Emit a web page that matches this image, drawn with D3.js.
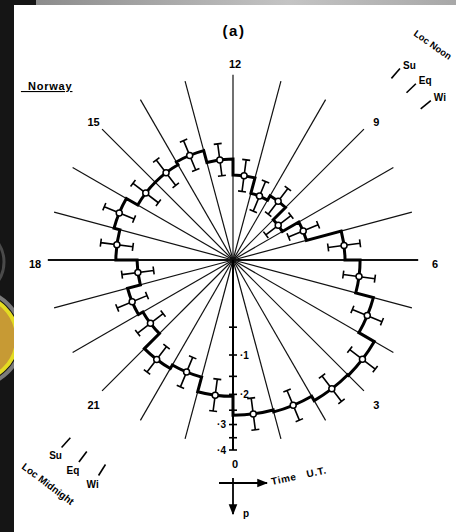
<!DOCTYPE html>
<html>
<head>
<meta charset="utf-8">
<script src="https://cdn.jsdelivr.net/npm/d3@7"></script>
<style>
  body { margin: 0; background: #fff; }
  svg text { font-family: "Liberation Sans", Arial, sans-serif; font-weight: bold; fill: #000; }
</style>
</head>
<body>
<svg id="chart" width="456" height="532"></svg>
<script>
// start hour (U.T.) of each hourly bin
const hours = d3.range(0, 24);
// proportion p in each bin, and the ends of its error bar
const pValues = [0.267, 0.274, 0.292, 0.295, 0.234, 0.179, 0.139, 0.064, 0.036, 0.061, 0.053, 0.080,
                 0.113, 0.142, 0.134, 0.134, 0.168, 0.152, 0.102, 0.132, 0.120, 0.174, 0.163, 0.206];
const pLow   = [0.215, 0.221, 0.237, 0.240, 0.185, 0.137, 0.102, 0.040, 0.019, 0.037, 0.031, 0.053,
                0.080, 0.105, 0.098, 0.098, 0.127, 0.113, 0.071, 0.096, 0.086, 0.132, 0.123, 0.160];
const pHigh  = [0.325, 0.333, 0.352, 0.356, 0.288, 0.227, 0.182, 0.094, 0.059, 0.090, 0.080, 0.113,
                0.152, 0.185, 0.176, 0.176, 0.215, 0.197, 0.139, 0.174, 0.160, 0.221, 0.209, 0.257];
const hourLabels = [0, 3, 6, 9, 12, 15, 18, 21];
const pTicks = [0.05, 0.1, 0.15, 0.2, 0.25, 0.3, 0.35, 0.4];
const pTickLabels = ["·1", "·2", "·3", "·4"];
const pTickLabelValues = [0.1, 0.2, 0.3, 0.4];
const seasons = ["Su", "Eq", "Wi"];
const noonHours = [9.26, 8.93, 8.59];
const midnightHours = [21.17, 21.51, 21.87];

const cx = 233, cy = 260;
const svg = d3.select("#chart");
const defs = svg.append("defs");

// scanned page frame
svg.append("rect").attr("width", 456).attr("height", 532).attr("fill", "#151515");
const grad = defs.append("linearGradient").attr("id", "topbar");
grad.append("stop").attr("offset", "0%").attr("stop-color", "#8c8c8c");
grad.append("stop").attr("offset", "60%").attr("stop-color", "#c4c4c4");
grad.append("stop").attr("offset", "100%").attr("stop-color", "#a8a8a8");
svg.append("rect").attr("x", 36).attr("y", 0).attr("width", 420).attr("height", 5).attr("fill", "url(#topbar)");
defs.append("clipPath").attr("id", "strip").append("rect").attr("width", 14).attr("height", 532);
const strip = svg.append("g").attr("clip-path", "url(#strip)");
strip.append("circle").attr("cx", -30).attr("cy", 262).attr("r", 34)
  .attr("fill", "none").attr("stroke", "#4a4a4a").attr("stroke-width", 3);
strip.append("circle").attr("cx", -26).attr("cy", 338).attr("r", 48)
  .attr("fill", "none").attr("stroke", "#7a7a7a").attr("stroke-width", 4);
strip.append("circle").attr("cx", -26).attr("cy", 338).attr("r", 43)
  .attr("fill", "#c79a34").attr("stroke", "#e4dc22").attr("stroke-width", 4);
svg.append("rect").attr("x", 14).attr("y", 5).attr("width", 442).attr("height", 527).attr("fill", "#fff");

// scales: hour -> angle (clockwise from top, 12 at top), p -> radius (square root)
const angle = d3.scaleLinear().domain([0, 24]).range([Math.PI, -Math.PI]);
const radius = d3.scaleSqrt().domain([0, 0.4]).range([0, 190]);
const spokeP = 0.38;

const g = svg.append("g").attr("transform", `translate(${cx},${cy})`);

// hour spokes
g.selectAll("line.spoke")
  .data(d3.range(1, 24))
  .join("line")
  .attr("class", "spoke")
  .attr("x1", 0).attr("y1", 0)
  .attr("x2", h => d3.pointRadial(angle(h), radius(spokeP))[0])
  .attr("y2", h => d3.pointRadial(angle(h), radius(spokeP))[1])
  .attr("stroke", "#111")
  .attr("stroke-width", h => (h === 6 || h === 18) ? 1.8 : 1.2);

// p axis along hour 0
g.append("line")
  .attr("x1", 0).attr("y1", 0).attr("x2", 0).attr("y2", radius(0.4))
  .attr("stroke", "#000").attr("stroke-width", 2);
g.selectAll("line.ptick")
  .data(pTicks)
  .join("line")
  .attr("class", "ptick")
  .attr("x1", -4).attr("x2", 4)
  .attr("y1", d => radius(d)).attr("y2", d => radius(d))
  .attr("stroke", "#000").attr("stroke-width", 1.6);
g.selectAll("text.plabel")
  .data(pTickLabelValues)
  .join("text")
  .attr("class", "plabel")
  .attr("x", d => d < 0.25 ? 7 : -7)
  .attr("y", d => radius(d))
  .attr("dy", "0.35em")
  .attr("text-anchor", d => d < 0.25 ? "start" : "end")
  .attr("font-size", 10)
  .text((d, i) => pTickLabels[i]);

// stepped polar histogram
const step = d3.path();
hours.forEach((h, i) => {
  const r = radius(pValues[i]);
  if (i === 0) {
    const p0 = d3.pointRadial(angle(h), r);
    step.moveTo(p0[0], p0[1]);
  }
  step.arc(0, 0, r, angle(h) - Math.PI / 2, angle(h + 1) - Math.PI / 2, true);
});
step.closePath();
g.append("path")
  .attr("d", step.toString())
  .attr("fill", "none")
  .attr("stroke", "#000")
  .attr("stroke-width", 3)
  .attr("stroke-linejoin", "miter");

// radial error bars with caps
const bars = g.selectAll("g.err")
  .data(hours)
  .join("g")
  .attr("class", "err");
bars.append("path")
  .attr("d", (h, i) => {
    const a = angle(h + 0.5);
    const lo = d3.pointRadial(a, radius(pLow[i]));
    const hi = d3.pointRadial(a, radius(pHigh[i]));
    const tx = Math.cos(a) * 4, ty = Math.sin(a) * 4;
    return `M${lo[0]},${lo[1]}L${hi[0]},${hi[1]}` +
      `M${lo[0] - tx},${lo[1] - ty}L${lo[0] + tx},${lo[1] + ty}` +
      `M${hi[0] - tx},${hi[1] - ty}L${hi[0] + tx},${hi[1] + ty}`;
  })
  .attr("fill", "none")
  .attr("stroke", "#000")
  .attr("stroke-width", 1.6);
bars.append("circle")
  .attr("cx", (h, i) => d3.pointRadial(angle(h + 0.5), radius(pValues[i]))[0])
  .attr("cy", (h, i) => d3.pointRadial(angle(h + 0.5), radius(pValues[i]))[1])
  .attr("r", 3)
  .attr("fill", "#fff")
  .attr("stroke", "#000")
  .attr("stroke-width", 1.5);

// hour labels
g.selectAll("text.hour")
  .data(hourLabels)
  .join("text")
  .attr("class", "hour")
  .attr("x", h => d3.pointRadial(angle(h), 200)[0] + 2)
  .attr("y", h => d3.pointRadial(angle(h), 200)[1] + 4)
  .attr("dy", "0.35em")
  .attr("text-anchor", "middle")
  .attr("font-size", 11)
  .text(h => h);

// local noon / midnight markers
function seasonTicks(hrs, cls, place) {
  g.selectAll("line." + cls)
    .data(hrs)
    .join("line")
    .attr("class", cls)
    .attr("x1", h => d3.pointRadial(angle(h), 241)[0])
    .attr("y1", h => d3.pointRadial(angle(h), 241)[1])
    .attr("x2", h => d3.pointRadial(angle(h), 254)[0])
    .attr("y2", h => d3.pointRadial(angle(h), 254)[1])
    .attr("stroke", "#000").attr("stroke-width", 1.6);
  g.selectAll("text." + cls)
    .data(hrs)
    .join("text")
    .attr("class", cls)
    .attr("x", h => d3.pointRadial(angle(h), 254)[0] + place.dx)
    .attr("y", h => d3.pointRadial(angle(h), 254)[1] + place.dy)
    .attr("text-anchor", place.anchor)
    .attr("font-size", 10)
    .text((h, i) => seasons[i]);
}
seasonTicks(noonHours, "noon", {dx: 3, dy: 0, anchor: "start"});
seasonTicks(midnightHours, "midnight", {dx: -6, dy: 12, anchor: "middle"});

svg.append("text")
  .attr("transform", "translate(413,35) rotate(35)")
  .attr("font-size", 9.5)
  .text("Loc Noon");
svg.append("text")
  .attr("transform", "translate(21,468) rotate(37)")
  .attr("font-size", 10)
  .text("Loc Midnight");

// titles
svg.append("text")
  .attr("x", 234).attr("y", 36)
  .attr("text-anchor", "middle")
  .attr("font-size", 15)
  .attr("letter-spacing", 1.5)
  .text("(a)");
svg.append("text")
  .attr("x", 21).attr("y", 90)
  .attr("font-size", 11)
  .attr("letter-spacing", 0.8)
  .attr("text-decoration", "underline")
  .text("_Norway");

// axis key
defs.append("marker")
  .attr("id", "arrow")
  .attr("viewBox", "0 0 10 10")
  .attr("refX", 9).attr("refY", 5)
  .attr("markerWidth", 6).attr("markerHeight", 6)
  .attr("orient", "auto")
  .append("path").attr("d", "M0,1L10,5L0,9Z").attr("fill", "#000");
const key = svg.append("g").attr("transform", `translate(${cx},483)`);
key.append("line").attr("x1", -14).attr("y1", 0).attr("x2", 34).attr("y2", 0)
  .attr("stroke", "#000").attr("stroke-width", 1.8).attr("marker-end", "url(#arrow)");
key.append("line").attr("x1", 0).attr("y1", -5).attr("x2", 0).attr("y2", 31)
  .attr("stroke", "#000").attr("stroke-width", 1.8).attr("marker-end", "url(#arrow)");
key.append("text").attr("x", 10).attr("y", 34).attr("font-size", 10).text("p");
const timeLabel = key.append("g").attr("transform", "translate(39,2) rotate(-12)");
timeLabel.append("text").attr("x", 0).attr("y", 0).attr("font-size", 10).attr("letter-spacing", 0.6).text("Time");
timeLabel.append("text").attr("x", 36).attr("y", 0).attr("font-size", 10).attr("letter-spacing", 0.6).text("U.T.");
</script>
</body>
</html>
